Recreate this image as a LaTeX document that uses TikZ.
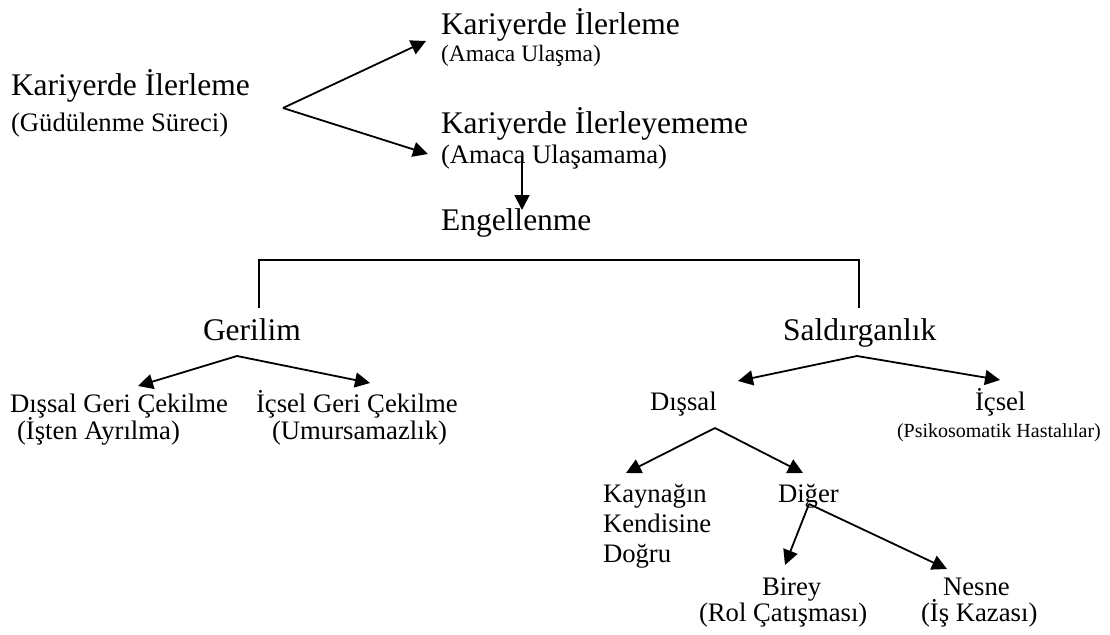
\documentclass[tikz,border=0pt]{standalone}
\usepackage{fontspec}
\setmainfont{Liberation Serif}
\usetikzlibrary{arrows.meta}
\begin{document}
\begin{tikzpicture}[x=1pt,y=-1pt,
  lbl/.style={anchor=base west,inner sep=0pt,outer sep=0pt},
  big/.style={lbl,font=\fontsize{31.5}{36}\selectfont},
  mid/.style={lbl,font=\fontsize{26.7}{30}\selectfont},
  mids/.style={lbl,font=\fontsize{23.5}{28}\selectfont},
  sml/.style={lbl,font=\fontsize{20}{24}\selectfont},
  conn/.style={line width=1.8pt},
  arr/.style={conn,-{Triangle[length=15pt,width=15pt]}}]
\useasboundingbox (0,0) rectangle (1110,634);
% texts
\node[big] (l1) at (11,95) {Kariyerde İlerleme};
\node[mid] (l1b) at (11,131) {(Güdülenme Süreci)};
\node[big] (r1) at (441,35) {Kariyerde İlerleme};
\node[mids] (r1b) at (441,62) {(Amaca Ulaşma)};
\node[big] (r2) at (441,133) {Kariyerde İlerleyememe};
\node[mid] (r2b) at (441,163) {(Amaca Ulaşamama)};
\node[big] (eng) at (441,230) {Engellenme};
\node[big] (ger) at (203,340) {Gerilim};
\node[big] (sal) at (783,340) {Saldırganlık};
\node[mid] (dg) at (10,412) {Dışsal Geri Çekilme};
\node[mid] (dgb) at (17,439) {(İşten Ayrılma)};
\node[mid] (ig) at (256,412) {İçsel Geri Çekilme};
\node[mid] (igb) at (272,439) {(Umursamazlık)};
\node[mid] (dis) at (650,410) {Dışsal};
\node[mid] (ic) at (975,410) {İçsel};
\node[sml] (icb) at (897,437) {(Psikosomatik Hastalılar)};
\node[mid] (k1) at (603,502) {Kaynağın};
\node[mid] (k2) at (603,532) {Kendisine};
\node[mid] (k3) at (603,562) {Doğru};
\node[mid] (dig) at (778,502) {Diğer};
\node[mid] (bir) at (762,595) {Birey};
\node[mid] (birb) at (699,621) {(Rol Çatışması)};
\node[mid] (nes) at (943,595) {Nesne};
\node[mid] (nesb) at (921,621) {(İş Kazası)};
% coordinates
\coordinate (v1) at (283,108);
\coordinate (t1a) at (426,41);
\coordinate (t1b) at (428,154);
\coordinate (va) at (522,157);
\coordinate (ta) at (522,210);
\coordinate (bl) at (259,308);
\coordinate (br) at (859,308);
\coordinate (v2) at (237,356);
\coordinate (t2a) at (138,386);
\coordinate (t2b) at (370,383);
\coordinate (v3) at (857,356);
\coordinate (t3a) at (738,381);
\coordinate (t3b) at (1000,380);
\coordinate (v4) at (715,428);
\coordinate (t4a) at (626,473);
\coordinate (t4b) at (803,473);
\coordinate (v5) at (809,504);
\coordinate (t5a) at (785,565);
\coordinate (t5b) at (947,569);
% connectors
\draw[arr] (v1) -- (t1a);
\draw[arr] (v1) -- (t1b);
\draw[arr] (va) -- (ta);
\draw[conn] (bl) -- (bl |- 0,260) -- (br |- 0,260) -- (br);
\draw[arr] (v2) -- (t2a);
\draw[arr] (v2) -- (t2b);
\draw[arr] (v3) -- (t3a);
\draw[arr] (v3) -- (t3b);
\draw[arr] (v4) -- (t4a);
\draw[arr] (v4) -- (t4b);
\draw[arr] (v5) -- (t5a);
\draw[arr] (v5) -- (t5b);
\end{tikzpicture}
\end{document}
